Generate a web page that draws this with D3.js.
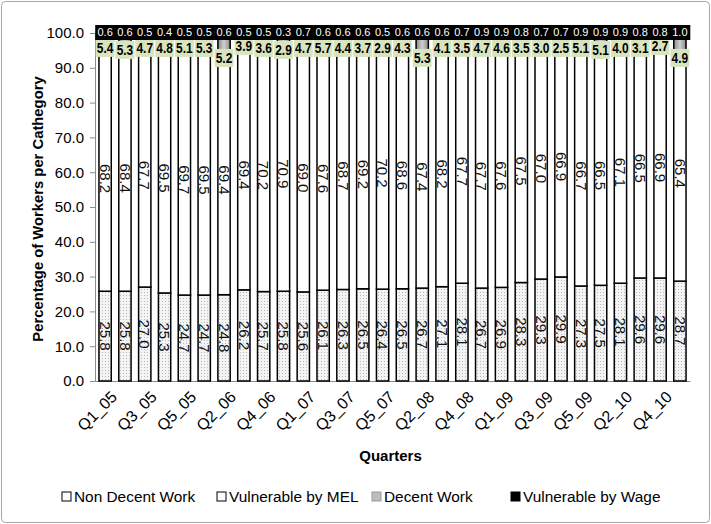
<!DOCTYPE html>
<html>
<head>
<meta charset="utf-8">
<script src="https://cdn.jsdelivr.net/npm/d3@7"></script>
<style>
  body { margin: 0; background: #fff; }
  svg text { font-family: "Liberation Sans", Arial, sans-serif; }
</style>
</head>
<body>
<div id="chart"></div>
<script>
// Quarters (5 per year in the source)
var quarters = ["Q1_05","Q2_05","Q3_05","Q4_05","Q5_05",
                "Q1_06","Q2_06","Q3_06","Q4_06","Q5_06",
                "Q1_07","Q2_07","Q3_07","Q4_07","Q5_07",
                "Q1_08","Q2_08","Q3_08","Q4_08","Q5_08",
                "Q1_09","Q2_09","Q3_09","Q4_09","Q5_09",
                "Q1_10","Q2_10","Q3_10","Q4_10","Q5_10"];

var nonDecent = [25.8,25.8,27.0,25.3,24.7,24.7,24.8,26.2,25.7,25.8,
                 25.6,26.1,26.3,26.5,26.4,26.5,26.7,27.1,28.1,26.7,
                 26.9,28.3,29.3,29.9,27.3,27.5,28.1,29.6,29.6,28.7];

var vulnMEL = [68.2,68.4,67.7,69.5,69.7,69.5,69.4,69.4,70.2,70.9,
               69.0,67.6,68.7,69.2,70.2,68.6,67.4,68.2,67.7,67.7,
               67.6,67.5,67.0,66.9,66.7,66.5,67.1,66.5,66.9,65.4];

var decent = [5.4,5.3,4.7,4.8,5.1,5.3,5.2,3.9,3.6,2.9,
              4.7,5.7,4.4,3.7,2.9,4.3,5.3,4.1,3.5,4.7,
              4.6,3.5,3.0,2.5,5.1,5.1,4.0,3.1,2.7,4.9];

var vulnWage = [0.6,0.6,0.5,0.4,0.5,0.5,0.6,0.5,0.5,0.3,
                0.7,0.6,0.6,0.6,0.5,0.6,0.6,0.6,0.7,0.9,
                0.9,0.8,0.7,0.7,0.9,0.9,0.9,0.8,0.8,1.0];

var seriesNames = ["Non Decent Work", "Vulnerable by MEL", "Decent Work", "Vulnerable by Wage"];
var yTicks = [0,10,20,30,40,50,60,70,80,90,100];

var width = 711, height = 524;
var margin = {top: 33, right: 21, bottom: 143, left: 95};

var svg = d3.select("#chart").append("svg")
    .attr("width", width)
    .attr("height", height);

// outer frame
svg.append("rect")
    .attr("x", 1.5).attr("y", 1.5)
    .attr("width", width - 3).attr("height", height - 3)
    .attr("rx", 4)
    .attr("fill", "#fff")
    .attr("stroke", "#a6a6a6")
    .attr("stroke-width", 1);

var defs = svg.append("defs");

// dotted fill for the non decent part
var dots = defs.append("pattern")
    .attr("id", "dots")
    .attr("width", 3).attr("height", 3)
    .attr("patternUnits", "userSpaceOnUse");
dots.append("rect").attr("width", 3).attr("height", 3).attr("fill", "#f4f4f4");
dots.append("rect").attr("x", 1).attr("y", 1).attr("width", 1).attr("height", 1).attr("fill", "#b8b8b8");

var grey = defs.append("linearGradient").attr("id", "grey");
grey.append("stop").attr("offset", "0%").attr("stop-color", "#8a8a8a");
grey.append("stop").attr("offset", "50%").attr("stop-color", "#cfcfcf");
grey.append("stop").attr("offset", "100%").attr("stop-color", "#8a8a8a");

var fills = ["url(#dots)", "#ffffff", "url(#grey)", "#000000"];

var innerW = width - margin.left - margin.right,
    innerH = height - margin.top - margin.bottom;

var g = svg.append("g")
    .attr("transform", "translate(" + margin.left + "," + margin.top + ")");

var x = d3.scaleBand()
    .domain(quarters)
    .range([0, innerW])
    .paddingInner(0.38)
    .paddingOuter(0.2);

var y = d3.scaleLinear()
    .domain([0, 100])
    .range([innerH, 0]);

// stack the four series
var table = quarters.map(function(q, i) {
  return {q: q, "Non Decent Work": nonDecent[i], "Vulnerable by MEL": vulnMEL[i],
          "Decent Work": decent[i], "Vulnerable by Wage": vulnWage[i]};
});
var stacked = d3.stack().keys(seriesNames)(table);

// axes
var yAxis = g.append("g")
    .call(d3.axisLeft(y).tickValues(yTicks).tickFormat(d3.format(".1f")).tickSize(5).tickPadding(6));
yAxis.select(".domain").attr("stroke", "#8c8c8c");
yAxis.selectAll(".tick line").attr("stroke", "#8c8c8c");
yAxis.selectAll("text").attr("font-size", 15).attr("fill", "#000");

var xAxis = g.append("g")
    .attr("transform", "translate(0," + innerH + ")")
    .call(d3.axisBottom(x).tickSize(0).tickFormat(""));
xAxis.select(".domain").attr("stroke", "#8c8c8c");

// rotated quarter labels, every second one
var ql = g.append("g").selectAll("g")
    .data(quarters.filter(function(d, i) { return i % 2 === 0; }))
    .enter().append("g")
    .attr("transform", function(d) {
      var cx = x(d) + x.bandwidth() / 2;
      return "translate(" + (cx + 9) + "," + (innerH + 13) + ") rotate(-45)";
    });
ql.append("text")
    .attr("text-anchor", "end")
    .attr("dy", "0.35em")
    .attr("font-size", 16)
    .attr("fill", "#000")
    .text(function(d) { return d; });

// bars
var layers = g.selectAll(".layer")
    .data(stacked)
    .enter().append("g")
    .attr("class", "layer")
    .attr("fill", function(d, i) { return fills[i]; });

layers.selectAll("rect")
    .data(function(d) { return d; })
    .enter().append("rect")
    .attr("x", function(d) { return x(d.data.q); })
    .attr("y", function(d) { return y(d[1]); })
    .attr("width", x.bandwidth())
    .attr("height", function(d) { return y(d[0]) - y(d[1]); })
    .attr("stroke", "#000")
    .attr("stroke-width", 1.5);

// rotated labels for the two big segments
[0, 1].forEach(function(k) {
  g.append("g").selectAll("text")
    .data(stacked[k])
    .enter().append("text")
    .attr("transform", function(d) {
      var cx = x(d.data.q) + x.bandwidth() / 2;
      var cy = y((d[0] + d[1]) / 2) + (k === 1 ? 6 : 0);
      return "translate(" + cx + "," + cy + ") rotate(90)";
    })
    .attr("text-anchor", "middle")
    .attr("dy", "0.35em")
    .attr("font-size", 15)
    .attr("fill", "#111")
    .text(function(d) { return (d[1] - d[0]).toFixed(1); });
});

// decent work labels (green boxes, some nudged like in the source)
var nudge = {1: 2, 6: 10, 7: -2, 9: 2, 16: 10, 28: -2, 29: 10, 25: 2};
var step = x.step();
var dl = g.append("g").selectAll("g")
    .data(stacked[2])
    .enter().append("g")
    .attr("transform", function(d, i) {
      var cx = x(d.data.q) + x.bandwidth() / 2;
      return "translate(" + cx + "," + (y(96) + 1 + (nudge[i] || 0)) + ")";
    });
dl.append("rect")
    .attr("x", -step / 2 + 0.5).attr("y", -9)
    .attr("width", step - 1).attr("height", 18)
    .attr("fill", "#d7e4bd");
dl.append("text")
    .attr("text-anchor", "middle")
    .attr("dy", "0.35em")
    .attr("font-size", 14)
    .attr("font-weight", "bold")
    .attr("fill", "#000")
    .attr("transform", "scale(0.85,1)")
    .text(function(d) { return (d[1] - d[0]).toFixed(1); });

// wage labels in black band on top
var wl = g.append("g").selectAll("g")
    .data(stacked[3])
    .enter().append("g")
    .attr("transform", function(d) {
      var cx = x(d.data.q) + x.bandwidth() / 2;
      return "translate(" + cx + "," + y(100) + ")";
    });
wl.append("rect")
    .attr("x", -step / 2).attr("y", -8)
    .attr("width", step + 0.5).attr("height", 15)
    .attr("fill", "#000");
wl.append("text")
    .attr("text-anchor", "middle")
    .attr("dy", "0.3em")
    .attr("font-size", 11)
    .attr("fill", "#fff")
    .text(function(d) { return (d[1] - d[0]).toFixed(1); });

// axis titles
svg.append("text")
    .attr("x", margin.left + innerW / 2 - 2)
    .attr("y", 461)
    .attr("text-anchor", "middle")
    .attr("font-size", 15)
    .attr("font-weight", "bold")
    .text("Quarters");

svg.append("text")
    .attr("transform", "translate(38," + (margin.top + innerH / 2 + 2) + ") rotate(-90)")
    .attr("text-anchor", "middle")
    .attr("dy", "0.35em")
    .attr("font-size", 14.8)
    .attr("font-weight", "bold")
    .text("Percentage of Workers per Cathegory");

// legend
var legendX = [62, 217, 372, 511];
var legend = svg.append("g").selectAll("g")
    .data(seriesNames)
    .enter().append("g")
    .attr("transform", function(d, i) { return "translate(" + legendX[i] + ",497)"; });
legend.append("rect")
    .attr("x", 0).attr("y", -5)
    .attr("width", 9).attr("height", 9)
    .attr("fill", function(d, i) { return i === 2 ? "#bdbdbd" : fills[i] === "url(#dots)" ? "#fff" : fills[i]; })
    .attr("stroke", function(d, i) { return i === 2 ? "#9a9a9a" : "#000"; })
    .attr("stroke-width", 1);
legend.append("text")
    .attr("x", 12)
    .attr("dy", "0.35em")
    .attr("font-size", 15.4)
    .text(function(d) { return d; });
</script>
</body>
</html>
